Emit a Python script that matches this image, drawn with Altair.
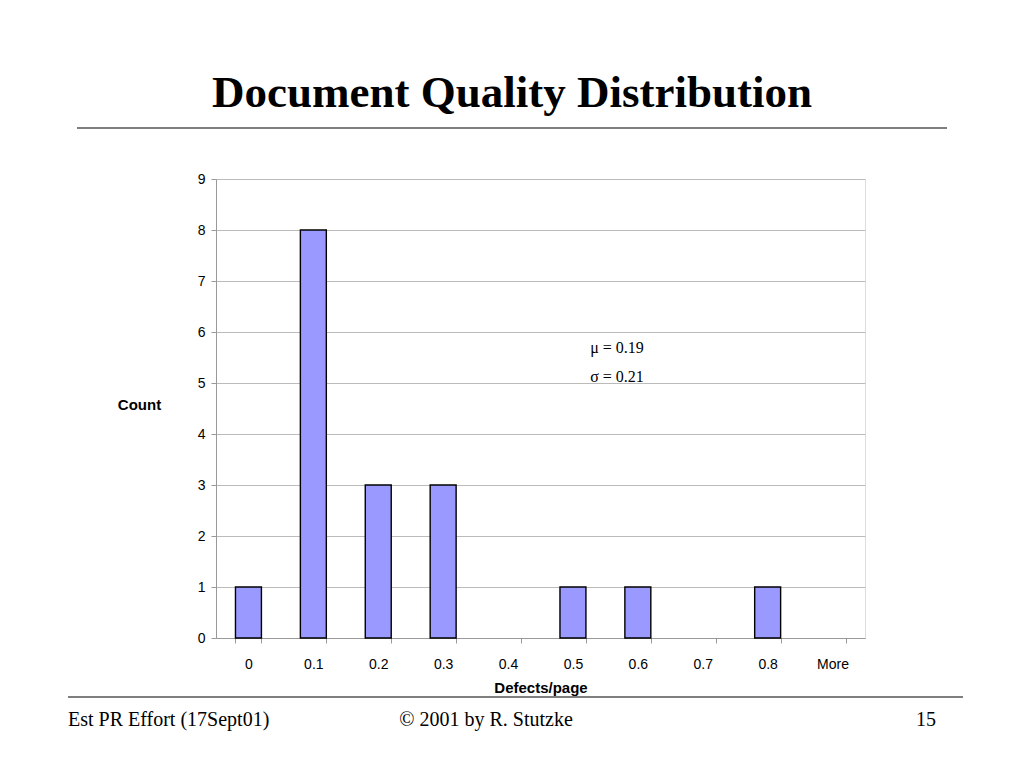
import altair as alt
import pandas as pd

categories = ["0", "0.1", "0.2", "0.3", "0.4", "0.5", "0.6", "0.7", "0.8", "More"]
counts = [1, 8, 3, 3, 0, 1, 1, 0, 1, 0]
y_ticks = [0, 1, 2, 3, 4, 5, 6, 7, 8, 9]

title_text = "Document Quality Distribution"
stats_lines = ["\u03bc = 0.19", "\u03c3 = 0.21"]
footer_left = "Est PR Effort (17Sept01)"
footer_mid = "\u00a9 2001 by R. Stutzke"
footer_right = "15"

df = pd.DataFrame({"bin": categories, "count": counts})
df = df[df["count"] > 0]

W, H = 649, 459
OX, OY = 208, 171  # plot offset within the view

x_enc = alt.X("bin:N", sort=categories, title="Defects/page",
              scale=alt.Scale(domain=categories, paddingInner=0.6, paddingOuter=0.3),
              axis=alt.Axis(labelAngle=0, labelFont="Liberation Sans", labelFontSize=14,
                            labelColor="black", labelPadding=14, tickBand="extent",
                            tickColor="#999999", tickSize=5, domainColor="#999999",
                            titleFont="Liberation Sans", titleFontSize=15, titleFontWeight="bold",
                            titleColor="black", titlePadding=9))

y_enc = alt.Y("count:Q", title="Count",
              scale=alt.Scale(domain=[0, 9], nice=False),
              axis=alt.Axis(values=y_ticks, format="d", labelFont="Liberation Sans",
                            labelFontSize=14, labelColor="black", labelPadding=6,
                            tickColor="#999999", tickSize=5, domainColor="#999999",
                            gridColor="#bbbbbb", titleAngle=0, titleFont="Liberation Sans",
                            titleFontSize=15, titleFontWeight="bold", titleColor="black",
                            titleX=-77, titleY=225, titleAlign="center", titleBaseline="middle"))

bars = alt.Chart(df).mark_bar(fill="#9999FF", stroke="black", strokeWidth=1.4).encode(
    x=x_enc, y=y_enc)

stats = alt.Chart(pd.DataFrame({"t": stats_lines, "yy": [169, 198]})).mark_text(
    font="Liberation Serif", fontSize=16, color="black", align="center", baseline="middle"
).encode(text="t:N", x=alt.value(401), y=alt.Y("yy:Q", scale=None, axis=None))

def txt(t, x, y, size, weight="normal", align="center", font="Liberation Serif"):
    return alt.Chart(pd.DataFrame({"t": [t]})).mark_text(
        font=font, fontSize=size, fontWeight=weight, color="black", align=align,
        baseline="middle", clip=False
    ).encode(text="t:N", x=alt.value(x), y=alt.value(y))

def hline(x1, x2, y, w):
    return alt.Chart(pd.DataFrame({"a": [0]})).mark_rule(color="black", strokeWidth=w, clip=False).encode(
        x=alt.value(x1), x2=alt.value(x2), y=alt.value(y))

title = txt(title_text, 512 - 216, 93 - 179, 45, weight="bold")
line1 = hline(77 - 216, 947 - 216, 128 - 179, 1.2)
line2 = hline(68 - 216, 963 - 216, 697 - 179, 1.2)
f1 = txt(footer_left, 68 - 216, 720 - 179, 20, align="left")
f2 = txt(footer_mid, 486 - 216, 720 - 179, 20)
f3 = txt(footer_right, 936 - 216, 720 - 179, 20, align="right")

chart = alt.layer(bars, stats, title, line1, line2, f1, f2, f3).properties(
    width=W, height=H,
    autosize=alt.AutoSizeParams(type="none"),
    padding={"left": OX, "top": OY, "right": 150, "bottom": 120},
).configure_view(stroke="#999999", strokeWidth=1.2).configure(background="white")

chart.save("out.html", embed_options={"renderer": "svg", "actions": False})
